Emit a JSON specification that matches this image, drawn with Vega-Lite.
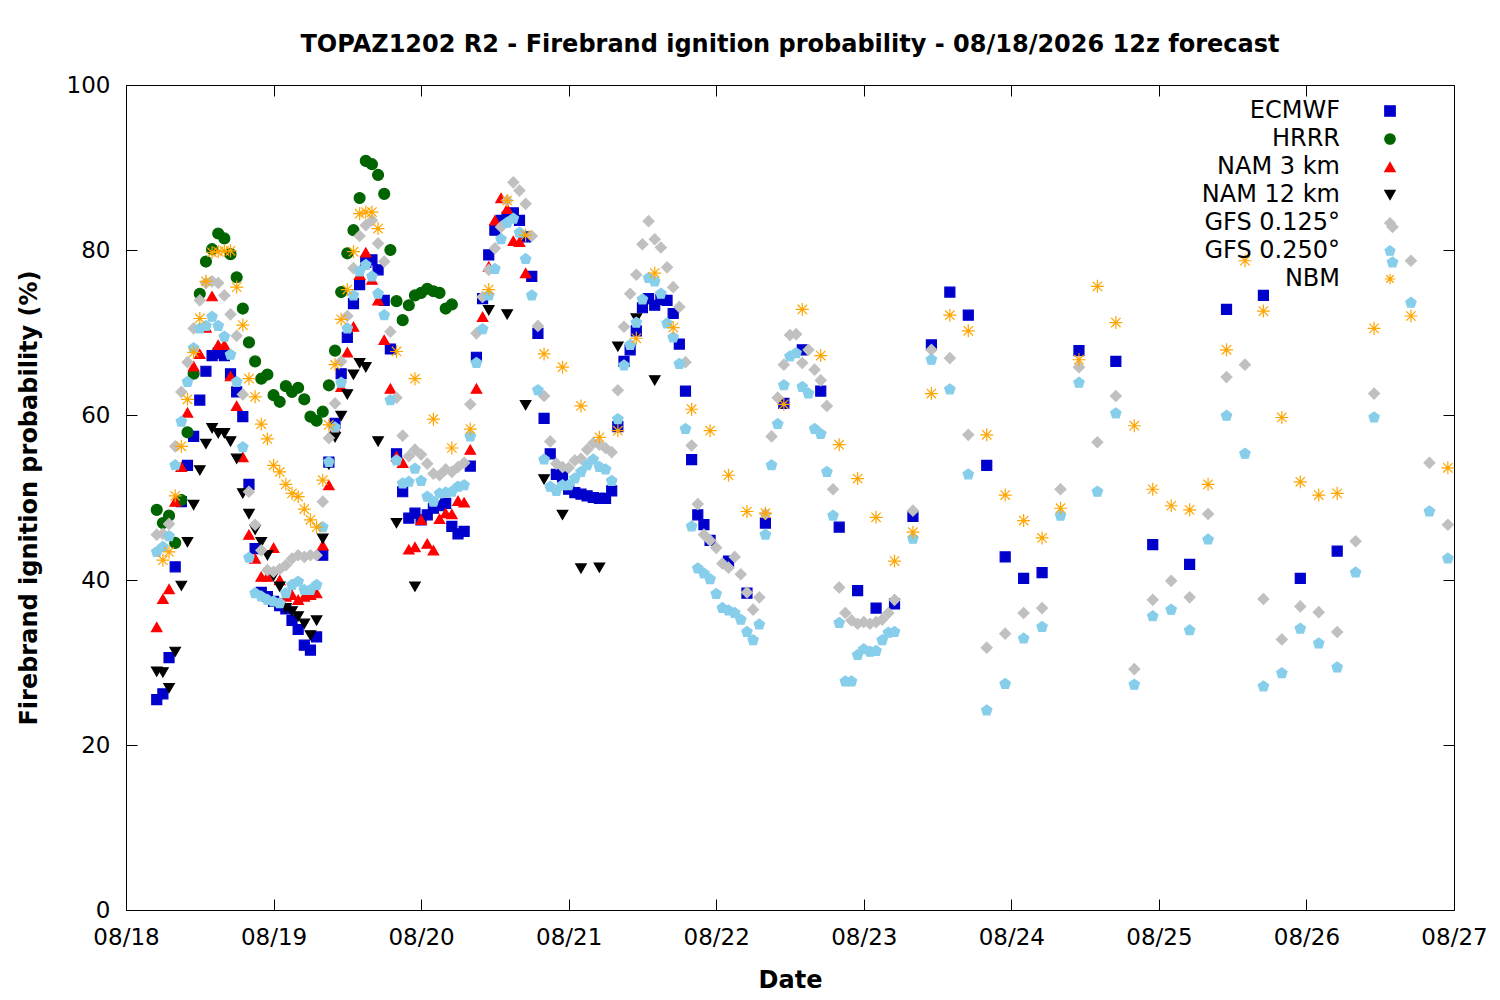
{
  "$schema": "https://vega.github.io/schema/vega-lite/v6.json",
  "width": 1328,
  "height": 825,
  "autosize": {"type": "none"},
  "padding": {"left": 126, "top": 85, "right": 46, "bottom": 90},
  "background": "white",
  "title": {
    "text": "TOPAZ1202 R2 - Firebrand ignition probability - 08/18/2026 12z forecast",
    "font": "DejaVu Sans",
    "fontSize": 24,
    "fontWeight": "bold",
    "color": "black",
    "offset": 17
  },
  "datasets": {
    "ECMWF": [
      {"h":5,"p":25.5},{"h":6,"p":26.2},{"h":7,"p":30.6},{"h":8,"p":41.6},{"h":9,"p":49.5},{"h":10,"p":53.9},{"h":11,"p":57.4},{"h":12,"p":61.8},{"h":13,"p":65.3},{"h":14,"p":67.2},{"h":15,"p":67.5},{"h":16,"p":67.2},{"h":17,"p":65},{"h":18,"p":62.8},{"h":19,"p":59.8},{"h":20,"p":51.6},{"h":21,"p":43.8},{"h":22,"p":38.5},{"h":23,"p":38},{"h":24,"p":37.4},{"h":25,"p":36.9},{"h":26,"p":36.5},{"h":27,"p":35.1},{"h":28,"p":34},{"h":29,"p":32.1},{"h":30,"p":31.5},{"h":31,"p":33.1},{"h":32,"p":43},{"h":33,"p":54.3},{"h":34,"p":59},{"h":35,"p":65},{"h":36,"p":69.4},{"h":37,"p":73.5},{"h":38,"p":75.8},{"h":39,"p":78.5},{"h":40,"p":78.8},{"h":41,"p":77.6},{"h":42,"p":73.9},{"h":43,"p":68},{"h":44,"p":55.3},{"h":45,"p":50.7},{"h":46,"p":47.5},{"h":47,"p":48.1},{"h":48,"p":47.3},{"h":49,"p":47.9},{"h":50,"p":48.7},{"h":51,"p":49},{"h":52,"p":49.3},{"h":53,"p":46.5},{"h":54,"p":45.6},{"h":55,"p":45.9},{"h":56,"p":53.8},{"h":57,"p":67},{"h":58,"p":74.1},{"h":59,"p":79.4},{"h":60,"p":82.4},{"h":61,"p":83.6},{"h":62,"p":84},{"h":63,"p":84.5},{"h":64,"p":83.6},{"h":65,"p":81.6},{"h":66,"p":76.8},{"h":67,"p":69.9},{"h":68,"p":59.6},{"h":69,"p":55.3},{"h":70,"p":52.8},{"h":71,"p":52.5},{"h":72,"p":51},{"h":73,"p":50.6},{"h":74,"p":50.4},{"h":75,"p":50.2},{"h":76,"p":50},{"h":77,"p":49.9},{"h":78,"p":49.9},{"h":79,"p":50.8},{"h":80,"p":58.6},{"h":81,"p":66.5},{"h":82,"p":67.9},{"h":83,"p":70.2},{"h":84,"p":73},{"h":85,"p":74.1},{"h":86,"p":73.3},{"h":87,"p":74},{"h":88,"p":73.9},{"h":89,"p":72.3},{"h":90,"p":68.6},{"h":91,"p":62.9},{"h":92,"p":54.6},{"h":93,"p":47.9},{"h":94,"p":46.7},{"h":95,"p":44.8},{"h":98,"p":42.3},{"h":101,"p":38.4},{"h":104,"p":46.9},{"h":107,"p":61.4},{"h":110,"p":67.9},{"h":113,"p":62.9},{"h":116,"p":46.4},{"h":119,"p":38.7},{"h":122,"p":36.6},{"h":125,"p":37.1},{"h":128,"p":47.7},{"h":131,"p":68.5},{"h":134,"p":74.9},{"h":137,"p":72.1},{"h":140,"p":53.9},{"h":143,"p":42.8},{"h":146,"p":40.2},{"h":149,"p":40.9},{"h":155,"p":67.8},{"h":161,"p":66.5},{"h":167,"p":44.3},{"h":173,"p":41.9},{"h":179,"p":72.8},{"h":185,"p":74.5},{"h":191,"p":40.2},{"h":197,"p":43.5}
    ],
    "HRRR": [
      {"h":5,"p":48.5},{"h":6,"p":46.9},{"h":7,"p":47.8},{"h":8,"p":44.5},{"h":9,"p":49.7},{"h":10,"p":57.9},{"h":11,"p":65},{"h":12,"p":74.7},{"h":13,"p":78.6},{"h":14,"p":80.1},{"h":15,"p":82},{"h":16,"p":81.4},{"h":17,"p":79.5},{"h":18,"p":76.7},{"h":19,"p":72.9},{"h":20,"p":68.8},{"h":21,"p":66.5},{"h":22,"p":64.4},{"h":23,"p":64.9},{"h":24,"p":62.4},{"h":25,"p":61.6},{"h":26,"p":63.5},{"h":27,"p":62.8},{"h":28,"p":63.3},{"h":29,"p":61.9},{"h":30,"p":59.8},{"h":31,"p":59.3},{"h":32,"p":60.4},{"h":33,"p":63.6},{"h":34,"p":67.8},{"h":35,"p":74.9},{"h":36,"p":79.6},{"h":37,"p":82.4},{"h":38,"p":86.3},{"h":39,"p":90.8},{"h":40,"p":90.4},{"h":41,"p":89.1},{"h":42,"p":86.8},{"h":43,"p":80},{"h":44,"p":73.8},{"h":45,"p":71.5},{"h":46,"p":73.3},{"h":47,"p":74.5},{"h":48,"p":74.8},{"h":49,"p":75.3},{"h":50,"p":75},{"h":51,"p":74.8},{"h":52,"p":72.9},{"h":53,"p":73.4}
    ],
    "NAM3": [
      {"h":5,"p":34.3},{"h":6,"p":37.7},{"h":7,"p":38.9},{"h":8,"p":49.5},{"h":9,"p":53.7},{"h":10,"p":60.3},{"h":11,"p":65.9},{"h":12,"p":67.4},{"h":13,"p":70.6},{"h":14,"p":74.4},{"h":15,"p":68.5},{"h":16,"p":68.5},{"h":17,"p":64.7},{"h":18,"p":61.1},{"h":19,"p":54.9},{"h":20,"p":45.5},{"h":21,"p":42.6},{"h":22,"p":40.4},{"h":23,"p":40.4},{"h":24,"p":43.9},{"h":25,"p":40},{"h":26,"p":38},{"h":27,"p":38.2},{"h":28,"p":37.6},{"h":29,"p":38},{"h":30,"p":38.2},{"h":31,"p":38.4},{"h":32,"p":44.2},{"h":33,"p":51.5},{"h":34,"p":58.4},{"h":35,"p":63.4},{"h":36,"p":67.6},{"h":37,"p":70.7},{"h":38,"p":77},{"h":39,"p":79.7},{"h":40,"p":76.4},{"h":41,"p":73.9},{"h":42,"p":69.1},{"h":43,"p":63.2},{"h":44,"p":55},{"h":45,"p":54.2},{"h":46,"p":43.7},{"h":47,"p":44},{"h":48,"p":47.3},{"h":49,"p":44.4},{"h":50,"p":43.6},{"h":51,"p":47.4},{"h":52,"p":48.1},{"h":53,"p":48},{"h":54,"p":49.6},{"h":55,"p":49.4},{"h":56,"p":55.8},{"h":57,"p":63.2},{"h":58,"p":71.9},{"h":59,"p":78},{"h":60,"p":83.6},{"h":61,"p":86.3},{"h":62,"p":85},{"h":63,"p":81.1},{"h":64,"p":81},{"h":65,"p":77.2}
    ],
    "NAM12": [
      {"h":5,"p":28.9},{"h":6,"p":28.8},{"h":7,"p":26.9},{"h":8,"p":31.3},{"h":9,"p":39.3},{"h":10,"p":44.6},{"h":11,"p":49.1},{"h":12,"p":53.3},{"h":13,"p":56.5},{"h":14,"p":58.4},{"h":15,"p":57.8},{"h":16,"p":57.8},{"h":17,"p":56.8},{"h":18,"p":54.7},{"h":19,"p":50.5},{"h":20,"p":48},{"h":21,"p":46.1},{"h":22,"p":44.6},{"h":23,"p":43},{"h":24,"p":40.5},{"h":25,"p":39.2},{"h":26,"p":36.6},{"h":27,"p":36.2},{"h":28,"p":35.6},{"h":29,"p":34.7},{"h":30,"p":33.3},{"h":31,"p":35.1},{"h":32,"p":45},{"h":33,"p":54},{"h":34,"p":57.3},{"h":35,"p":59.9},{"h":36,"p":62.5},{"h":37,"p":64.9},{"h":38,"p":66.3},{"h":39,"p":65.8},{"h":41,"p":56.8},{"h":44,"p":46.9},{"h":47,"p":39.2},{"h":59,"p":72.7},{"h":62,"p":72.2},{"h":65,"p":61.2},{"h":68,"p":52.2},{"h":71,"p":47.9},{"h":74,"p":41.4},{"h":77,"p":41.5},{"h":80,"p":68.3},{"h":83,"p":71.7},{"h":86,"p":64.2}
    ],
    "GFS125": [
      {"h":5,"p":45.5},{"h":6,"p":45.6},{"h":7,"p":46.8},{"h":8,"p":56.2},{"h":9,"p":62.8},{"h":10,"p":66.4},{"h":11,"p":70.5},{"h":12,"p":73.9},{"h":13,"p":76},{"h":14,"p":76.2},{"h":15,"p":76},{"h":16,"p":74.5},{"h":17,"p":72.2},{"h":18,"p":69.6},{"h":19,"p":62.5},{"h":20,"p":50.7},{"h":21,"p":46.7},{"h":22,"p":43.6},{"h":23,"p":41.2},{"h":24,"p":41},{"h":25,"p":41.3},{"h":26,"p":41.8},{"h":27,"p":42.6},{"h":28,"p":43},{"h":29,"p":42.8},{"h":30,"p":43},{"h":31,"p":43},{"h":32,"p":49.5},{"h":33,"p":57.2},{"h":34,"p":61.4},{"h":35,"p":66.5},{"h":36,"p":72},{"h":37,"p":77.8},{"h":38,"p":81.7},{"h":39,"p":83},{"h":40,"p":83.6},{"h":41,"p":80.8},{"h":42,"p":78.6},{"h":43,"p":70.1},{"h":44,"p":62.1},{"h":45,"p":57.5},{"h":46,"p":55},{"h":47,"p":55.8},{"h":48,"p":55.2},{"h":49,"p":54.1},{"h":50,"p":52.9},{"h":51,"p":52.7},{"h":52,"p":53.4},{"h":53,"p":53.1},{"h":54,"p":53.7},{"h":55,"p":54.2},{"h":56,"p":61.3},{"h":57,"p":69.9},{"h":58,"p":74.3},{"h":59,"p":77.6},{"h":60,"p":80.2},{"h":61,"p":82.8},{"h":62,"p":86},{"h":63,"p":88.2},{"h":64,"p":87.2},{"h":65,"p":85.6},{"h":66,"p":81.7},{"h":67,"p":70.8},{"h":68,"p":62.3},{"h":69,"p":56.8},{"h":70,"p":54.1},{"h":71,"p":53.7},{"h":72,"p":53.6},{"h":73,"p":54.5},{"h":74,"p":54.7},{"h":75,"p":55.8},{"h":76,"p":56.6},{"h":77,"p":56.4},{"h":78,"p":56},{"h":79,"p":55.5},{"h":80,"p":63},{"h":81,"p":70.7},{"h":82,"p":74.7},{"h":83,"p":77},{"h":84,"p":80.7},{"h":85,"p":83.5},{"h":86,"p":81.3},{"h":87,"p":80.3},{"h":88,"p":77.9},{"h":89,"p":75.5},{"h":90,"p":73.1},{"h":91,"p":66.4},{"h":92,"p":56.3},{"h":93,"p":49.2},{"h":94,"p":45.5},{"h":95,"p":44.8},{"h":96,"p":43.9},{"h":97,"p":42},{"h":98,"p":41.5},{"h":99,"p":42.8},{"h":100,"p":40.7},{"h":101,"p":38.5},{"h":102,"p":36.4},{"h":103,"p":37.9},{"h":104,"p":48},{"h":105,"p":57.4},{"h":106,"p":62.1},{"h":107,"p":66.1},{"h":108,"p":69.7},{"h":109,"p":69.8},{"h":110,"p":66.3},{"h":111,"p":67.9},{"h":112,"p":65.5},{"h":113,"p":64.2},{"h":114,"p":61.1},{"h":115,"p":51},{"h":116,"p":39.1},{"h":117,"p":36},{"h":118,"p":35.1},{"h":119,"p":34.7},{"h":120,"p":34.9},{"h":121,"p":34.7},{"h":122,"p":34.9},{"h":123,"p":35.2},{"h":124,"p":36},{"h":125,"p":37.6},{"h":128,"p":48.4},{"h":131,"p":67.9},{"h":134,"p":66.9},{"h":137,"p":57.6},{"h":140,"p":31.8},{"h":143,"p":33.5},{"h":146,"p":36},{"h":149,"p":36.6},{"h":152,"p":51},{"h":155,"p":65.8},{"h":158,"p":56.7},{"h":161,"p":62.3},{"h":164,"p":29.2},{"h":167,"p":37.6},{"h":170,"p":39.9},{"h":173,"p":37.9},{"h":176,"p":48},{"h":179,"p":64.6},{"h":182,"p":66.1},{"h":185,"p":37.7},{"h":188,"p":32.8},{"h":191,"p":36.8},{"h":194,"p":36.1},{"h":197,"p":33.7},{"h":200,"p":44.7},{"h":203,"p":62.6},{"h":206,"p":82.8},{"h":209,"p":78.7},{"h":212,"p":54.2},{"h":215,"p":46.7}
    ],
    "GFS250": [
      {"h":5,"p":43.4},{"h":6,"p":44},{"h":7,"p":45.3},{"h":8,"p":53.9},{"h":9,"p":59.2},{"h":10,"p":64},{"h":11,"p":68.1},{"h":12,"p":70.5},{"h":13,"p":70.8},{"h":14,"p":71.9},{"h":15,"p":70.8},{"h":16,"p":69.5},{"h":17,"p":67.3},{"h":18,"p":64},{"h":19,"p":56.1},{"h":20,"p":42.7},{"h":21,"p":38.4},{"h":22,"p":38},{"h":23,"p":37.6},{"h":24,"p":37.4},{"h":25,"p":37.2},{"h":26,"p":38.4},{"h":27,"p":39.4},{"h":28,"p":39.8},{"h":29,"p":38.8},{"h":30,"p":38.8},{"h":31,"p":39.4},{"h":32,"p":46.4},{"h":33,"p":54.3},{"h":34,"p":58.5},{"h":35,"p":63.9},{"h":36,"p":70.5},{"h":37,"p":74.5},{"h":38,"p":77.4},{"h":39,"p":78.2},{"h":40,"p":76.8},{"h":41,"p":74.7},{"h":42,"p":72.1},{"h":43,"p":61.8},{"h":44,"p":54.5},{"h":45,"p":51.7},{"h":46,"p":51.9},{"h":47,"p":53.5},{"h":48,"p":52},{"h":49,"p":50.1},{"h":50,"p":49.5},{"h":51,"p":50.5},{"h":52,"p":50.6},{"h":53,"p":50.7},{"h":54,"p":51.3},{"h":55,"p":51.5},{"h":56,"p":57.4},{"h":57,"p":66.3},{"h":58,"p":70.4},{"h":59,"p":74.5},{"h":60,"p":77.7},{"h":61,"p":81.3},{"h":62,"p":83.3},{"h":63,"p":83.8},{"h":64,"p":82.1},{"h":65,"p":78.9},{"h":66,"p":74.5},{"h":67,"p":63},{"h":68,"p":54.6},{"h":69,"p":51.3},{"h":70,"p":50.8},{"h":71,"p":51.5},{"h":72,"p":51.5},{"h":73,"p":52.3},{"h":74,"p":53.1},{"h":75,"p":53.9},{"h":76,"p":54.6},{"h":77,"p":53.7},{"h":78,"p":53.4},{"h":79,"p":52},{"h":80,"p":59.5},{"h":81,"p":66},{"h":82,"p":68.5},{"h":83,"p":71.2},{"h":84,"p":74},{"h":85,"p":76.6},{"h":86,"p":76.2},{"h":87,"p":74.7},{"h":88,"p":71.1},{"h":89,"p":69.4},{"h":90,"p":66.2},{"h":91,"p":58.3},{"h":92,"p":46.5},{"h":93,"p":41.4},{"h":94,"p":40.8},{"h":95,"p":40.1},{"h":96,"p":38.3},{"h":97,"p":36.6},{"h":98,"p":36.3},{"h":99,"p":36},{"h":100,"p":35.2},{"h":101,"p":33.7},{"h":102,"p":32.7},{"h":103,"p":34.6},{"h":104,"p":45.5},{"h":105,"p":53.9},{"h":106,"p":58.9},{"h":107,"p":63.6},{"h":108,"p":67.1},{"h":109,"p":67.5},{"h":110,"p":63.4},{"h":111,"p":62.6},{"h":112,"p":58.3},{"h":113,"p":57.7},{"h":114,"p":53.1},{"h":115,"p":47.8},{"h":116,"p":34.8},{"h":117,"p":27.7},{"h":118,"p":27.7},{"h":119,"p":30.9},{"h":120,"p":31.6},{"h":121,"p":31.3},{"h":122,"p":31.4},{"h":123,"p":32.7},{"h":124,"p":33.6},{"h":125,"p":33.7},{"h":128,"p":45},{"h":131,"p":66.7},{"h":134,"p":63.1},{"h":137,"p":52.8},{"h":140,"p":24.2},{"h":143,"p":27.4},{"h":146,"p":32.9},{"h":149,"p":34.3},{"h":152,"p":47.8},{"h":155,"p":63.9},{"h":158,"p":50.7},{"h":161,"p":60.2},{"h":164,"p":27.3},{"h":167,"p":35.6},{"h":170,"p":36.4},{"h":173,"p":33.9},{"h":176,"p":44.9},{"h":179,"p":59.9},{"h":182,"p":55.3},{"h":185,"p":27.1},{"h":188,"p":28.7},{"h":191,"p":34.1},{"h":194,"p":32.3},{"h":197,"p":29.4},{"h":200,"p":40.9},{"h":203,"p":59.7},{"h":206,"p":78.5},{"h":209,"p":73.6},{"h":212,"p":48.3},{"h":215,"p":42.6}
    ],
    "NBM": [
      {"h":6,"p":42.4},{"h":7,"p":43.4},{"h":8,"p":50.2},{"h":9,"p":56.2},{"h":10,"p":61.9},{"h":11,"p":67.6},{"h":12,"p":71.7},{"h":13,"p":76.2},{"h":14,"p":79.7},{"h":15,"p":79.8},{"h":16,"p":79.9},{"h":17,"p":79.9},{"h":18,"p":75.5},{"h":19,"p":70.9},{"h":20,"p":64.4},{"h":21,"p":62.2},{"h":22,"p":58.9},{"h":23,"p":57.1},{"h":24,"p":53.9},{"h":25,"p":53.1},{"h":26,"p":51.6},{"h":27,"p":50.5},{"h":28,"p":50.1},{"h":29,"p":48.6},{"h":30,"p":47.3},{"h":31,"p":46.4},{"h":32,"p":52.1},{"h":33,"p":58.8},{"h":34,"p":66.1},{"h":35,"p":71.6},{"h":36,"p":75.2},{"h":37,"p":79.8},{"h":38,"p":84.4},{"h":39,"p":84.6},{"h":40,"p":84.6},{"h":41,"p":82.6},{"h":44,"p":67.7},{"h":47,"p":64.4},{"h":50,"p":59.5},{"h":53,"p":56},{"h":56,"p":58.3},{"h":59,"p":75.2},{"h":62,"p":86},{"h":65,"p":81.8},{"h":68,"p":67.4},{"h":71,"p":65.8},{"h":74,"p":61.1},{"h":77,"p":57.3},{"h":80,"p":58.1},{"h":83,"p":69.3},{"h":86,"p":77.2},{"h":89,"p":70.6},{"h":92,"p":60.7},{"h":95,"p":58.1},{"h":98,"p":52.7},{"h":101,"p":48.3},{"h":104,"p":48.1},{"h":107,"p":61.3},{"h":110,"p":72.8},{"h":113,"p":67.2},{"h":116,"p":56.4},{"h":119,"p":52.3},{"h":122,"p":47.6},{"h":125,"p":42.3},{"h":128,"p":45.8},{"h":131,"p":62.6},{"h":134,"p":72.1},{"h":137,"p":70.2},{"h":140,"p":57.6},{"h":143,"p":50.3},{"h":146,"p":47.2},{"h":149,"p":45.1},{"h":152,"p":48.7},{"h":155,"p":66.7},{"h":158,"p":75.6},{"h":161,"p":71.2},{"h":164,"p":58.7},{"h":167,"p":51},{"h":170,"p":49},{"h":173,"p":48.5},{"h":176,"p":51.6},{"h":179,"p":67.9},{"h":182,"p":78.7},{"h":185,"p":72.6},{"h":188,"p":59.7},{"h":191,"p":51.9},{"h":194,"p":50.3},{"h":197,"p":50.5},{"h":203,"p":70.5},{"h":209,"p":72},{"h":215,"p":53.6}
    ]
  },
  "encoding": {
    "x": {
      "field": "h",
      "type": "quantitative",
      "scale": {"domain": [0, 216], "nice": false, "zero": false}
    },
    "y": {
      "field": "p",
      "type": "quantitative",
      "scale": {"domain": [0, 100], "nice": false}
    }
  },
  "layer": [
    {
      "layer": [
        {"data": {"name": "ECMWF"}, "mark": {"type": "point", "filled": true, "strokeWidth": 1.2, "opacity": 1, "size": 100},
         "encoding": {"fill": {"datum": "ECMWF"}, "stroke": {"datum": "ECMWF"}, "shape": {"datum": "ECMWF"}}},
        {"data": {"name": "HRRR"}, "mark": {"type": "point", "filled": true, "strokeWidth": 1.2, "opacity": 1, "size": 120},
         "encoding": {"fill": {"datum": "HRRR"}, "stroke": {"datum": "HRRR"}, "shape": {"datum": "HRRR"}}},
        {"data": {"name": "NAM3"}, "mark": {"type": "point", "filled": true, "strokeWidth": 1.2, "opacity": 1, "size": 110},
         "encoding": {"fill": {"datum": "NAM 3 km"}, "stroke": {"datum": "NAM 3 km"}, "shape": {"datum": "NAM 3 km"}}},
        {"data": {"name": "NAM12"}, "mark": {"type": "point", "filled": true, "strokeWidth": 1.2, "opacity": 1, "size": 110},
         "encoding": {"fill": {"datum": "NAM 12 km"}, "stroke": {"datum": "NAM 12 km"}, "shape": {"datum": "NAM 12 km"}}},
        {"data": {"name": "GFS125"}, "mark": {"type": "point", "filled": true, "strokeWidth": 1.2, "opacity": 1, "size": 120},
         "encoding": {"fill": {"datum": "GFS 0.125°"}, "stroke": {"datum": "GFS 0.125°"}, "shape": {"datum": "GFS 0.125°"}}},
        {"data": {"name": "GFS250"}, "mark": {"type": "point", "filled": true, "strokeWidth": 1.2, "opacity": 1, "size": 120},
         "encoding": {"fill": {"datum": "GFS 0.250°"}, "stroke": {"datum": "GFS 0.250°"}, "shape": {"datum": "GFS 0.250°"}}},
        {"data": {"name": "NBM"}, "mark": {"type": "point", "filled": true, "strokeWidth": 1.2, "opacity": 1, "size": 170},
         "encoding": {"fill": {"datum": "NBM"}, "stroke": {"datum": "NBM"}, "shape": {"datum": "NBM"}}}
      ],
      "encoding": {
        "x": {
          "field": "h",
          "type": "quantitative",
          "axis": {
            "orient": "bottom",
            "values": [0, 24, 48, 72, 96, 120, 144, 168, 192, 216],
            "labelExpr": "'08/' + (18 + datum.value / 24)",
            "labelFlush": false,
            "labelPadding": 27,
            "title": "Date",
            "titlePadding": 19
          }
        },
        "y": {
          "field": "p",
          "type": "quantitative",
          "axis": {
            "orient": "left",
            "values": [0, 20, 40, 60, 80, 100],
            "labelPadding": 27,
            "title": "Firebrand ignition probability (%)",
            "titlePadding": 25
          }
        },
        "fill": {
          "type": "nominal",
          "scale": {
            "domain": ["ECMWF", "HRRR", "NAM 3 km", "NAM 12 km", "GFS 0.125°", "GFS 0.250°", "NBM"],
            "range": ["#0000cc", "#006400", "#ff0000", "#000000", "#c0c0c0", "#87ceeb", "#ffa500"]
          },
          "legend": {
            "title": null,
            "orient": "none",
            "legendX": 1252,
            "legendY": 14,
            "labelAlign": "right",
            "labelOffset": -62,
            "labelFontSize": 24,
            "labelFont": "DejaVu Sans",
            "labelColor": "black",
            "symbolSize": 110,
            "symbolStrokeWidth": 1.2,
            "rowPadding": 4,
            "padding": 0
          }
        },
        "stroke": {
          "type": "nominal",
          "scale": {
            "domain": ["ECMWF", "HRRR", "NAM 3 km", "NAM 12 km", "GFS 0.125°", "GFS 0.250°", "NBM"],
            "range": ["#0000cc", "#006400", "#ff0000", "#000000", "#c0c0c0", "#87ceeb", "#ffa500"]
          },
          "legend": {"title": null}
        },
        "shape": {
          "type": "nominal",
          "scale": {
            "domain": ["ECMWF", "HRRR", "NAM 3 km", "NAM 12 km", "GFS 0.125°", "GFS 0.250°", "NBM"],
            "range": ["square", "circle", "triangle-up", "triangle-down", "diamond", "M0,-1L0.951,-0.309L0.588,0.809L-0.588,0.809L-0.951,-0.309Z", "M-1,0L1,0M0,-1L0,1M-0.72,-0.72L0.72,0.72M-0.72,0.72L0.72,-0.72"]
          },
          "legend": {"title": null}
        }
      }
    },
    {
      "data": {"name": "ECMWF"},
      "mark": {"type": "point", "opacity": 0},
      "encoding": {
        "x": {
          "field": "h",
          "type": "quantitative",
          "axis": {"orient": "top", "values": [0, 24, 48, 72, 96, 120, 144, 168, 192, 216], "labels": false, "title": null}
        },
        "y": {
          "field": "p",
          "type": "quantitative",
          "axis": {"orient": "right", "values": [0, 20, 40, 60, 80, 100], "labels": false, "title": null}
        }
      }
    }
  ],
  "resolve": {"axis": {"x": "independent", "y": "independent"}},
  "config": {
    "view": {"stroke": "black", "strokeWidth": 1},
    "axis": {
      "grid": false,
      "domain": false,
      "ticks": true,
      "tickSize": -11,
      "tickColor": "black",
      "tickWidth": 1,
      "labelFont": "DejaVu Sans",
      "labelFontSize": 23,
      "labelColor": "black",
      "titleFont": "DejaVu Sans",
      "titleFontSize": 24,
      "titleFontWeight": "bold",
      "titleColor": "black"
    }
  }
}
